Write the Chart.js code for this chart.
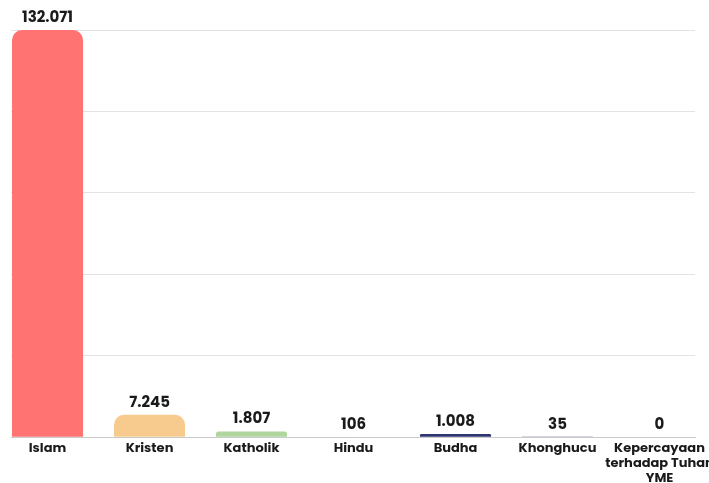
<!DOCTYPE html>
<html>
<head>
<meta charset="utf-8">
<script src="https://cdn.jsdelivr.net/npm/chart.js@4"></script>
<style>
html,body{margin:0;padding:0;background:#fff;}
#wrap{width:709px;height:483px;}
</style>
</head>
<body>
<div id="wrap"><canvas id="c"></canvas></div>
<script>
const categories = ["Islam", "Kristen", "Katholik", "Hindu", "Budha", "Khonghucu", ["Kepercayaan", "terhadap Tuhan", "YME"]];
const values = [132071, 7245, 1807, 106, 1008, 35, 0];
const barColors = ["#FF7373", "#F7CB8D", "#AED69D", "#90D0FA", "#2E3371", "#6E4F8F", "#9E9E9E"];
const gridSteps = 5;

const FONT = "'Poppins', 'Open Sans', sans-serif";

function fmt(v) {
  return String(v).replace(/\B(?=(\d{3})+(?!\d))/g, ".");
}

const valueLabels = {
  id: 'valueLabels',
  afterDatasetsDraw(chart) {
    const ctx = chart.ctx;
    const meta = chart.getDatasetMeta(0);
    ctx.save();
    ctx.font = "700 15px " + FONT;
    ctx.fillStyle = "#1a1a1a";
    ctx.textAlign = "center";
    ctx.textBaseline = "middle";
    meta.data.forEach((bar, i) => {
      ctx.fillText(fmt(values[i]), bar.x, bar.y - 12);
    });
    ctx.restore();
  }
};

const maxVal = Math.max(...values);

new Chart(document.getElementById('c'), {
  type: 'bar',
  data: {
    datasets: [{
      data: values.map((v, i) => ({x: i, y: v})),
      backgroundColor: barColors,
      borderRadius: 10,
      borderSkipped: 'start',
      categoryPercentage: 0.8,
      barPercentage: 0.87
    }]
  },
  options: {
    responsive: true,
    maintainAspectRatio: false,
    animation: false,
    layout: { padding: { top: 30, left: 11, right: 14, bottom: -7 } },
    plugins: { legend: { display: false }, tooltip: { enabled: false } },
    scales: {
      x: {
        type: 'linear',
        offset: false,
        min: -0.358,
        max: 6.348,
        grid: { display: false, drawTicks: false, offset: false },
        border: { display: true, color: '#c9c9c9', width: 1 },
        afterBuildTicks: s => { s.ticks = categories.map((_, i) => ({ value: i })); },
        afterFit: s => { s.paddingLeft = 0; s.paddingRight = 0; },
        ticks: {
          autoSkip: false,
          maxRotation: 0,
          padding: 4,
          color: '#1a1a1a',
          font: { family: FONT, size: 13, weight: '700', lineHeight: 1.15 },
          callback: v => categories[v]
        }
      },
      y: {
        min: 0,
        max: maxVal,
        afterBuildTicks: s => {
          const t = [];
          for (let k = 0; k <= gridSteps; k++) t.push({ value: maxVal * k / gridSteps });
          s.ticks = t;
        },
        ticks: { display: false },
        border: { display: false },
        grid: { color: '#e3e3e3', lineWidth: 1, drawTicks: false }
      }
    }
  },
  plugins: [valueLabels]
});
</script>
</body>
</html>
